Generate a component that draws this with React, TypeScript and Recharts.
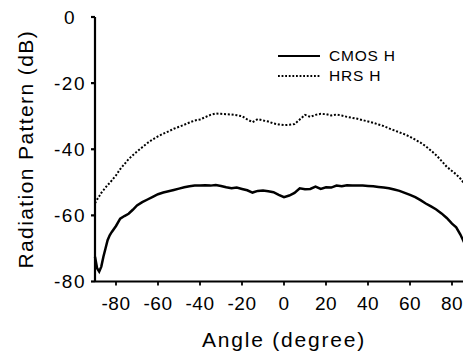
import { LineChart, Line, XAxis, YAxis, Legend } from "recharts";

// angle in degrees
const angles = [
  -90, -89, -88, -87, -86, -85, -84, -83, -82, -80,
  -78, -76, -74, -72, -70,
  -67.5, -65, -62.5, -60, -57.5, -55, -52.5, -50, -47.5, -45,
  -42.5, -40, -37.5, -35, -32.5, -30, -27.5, -25, -22.5, -20,
  -17.5, -15, -12.5, -10, -7.5, -5, -2.5, 0, 2.5, 5,
  7.5, 10, 12.5, 15, 17.5, 20, 22.5, 25, 27.5, 30,
  32.5, 35, 37.5, 40, 42.5, 45, 47.5, 50, 52.5, 55,
  57.5, 60, 62.5, 65, 67.5, 70, 72.5, 75, 77.5, 80,
  82, 84, 86, 88, 90,
];

// dB
const cmosH = [
  -72.5, -76, -77, -75.5, -72.5, -70, -67.5, -66, -65, -63.2,
  -61, -60.2, -59.5, -58.3, -57,
  -56, -55.2, -54.4, -53.6, -53.1, -52.7, -52.3, -51.9, -51.5, -51.2,
  -51.0, -51.0, -50.9, -51.0, -50.8, -51.1, -51.5, -51.8, -51.6, -52.0,
  -52.4, -53.1, -52.6, -52.5, -52.7, -53.0, -53.8, -54.5, -54.0, -53.2,
  -51.8, -52.1, -52.0, -51.3, -52.0, -51.5, -51.6, -51.0, -51.2, -50.9,
  -51.0, -51.0, -51.0, -51.1, -51.2, -51.4, -51.6, -51.8, -52.2, -52.6,
  -53.2, -53.8, -54.5, -55.4, -56.4, -57.3, -58.2, -59.4, -60.8, -62.5,
  -63.6, -65.8, -68.5, -71, -74,
];

const hrsH = [
  -56.3, -55.2, -54.2, -53.2, -52.4, -51.6, -50.8, -50.2, -49.4, -47.9,
  -46.0, -44.5, -43.0, -41.8, -40.7,
  -39.4, -38.1, -37.0, -36.1, -35.3, -34.6, -33.8, -33.2, -32.6, -31.9,
  -31.3, -31.0, -30.3, -29.6, -29.2, -29.3, -29.4, -29.5, -29.7, -30.0,
  -31.0, -31.8, -30.9, -31.3, -31.6, -32.2, -32.5, -32.7, -32.6, -32.4,
  -31.0, -29.6, -30.2, -29.6, -29.3, -29.4, -29.8, -29.5, -29.8, -30.2,
  -30.5, -30.8, -31.2, -31.6, -32.0, -32.5, -33.0, -33.7, -34.3, -34.9,
  -35.5, -36.2, -37.1, -38.0, -39.1, -40.4, -41.8, -43.5, -45.3, -46.6,
  -47.6, -48.9, -50.5, -52.0, -53.5,
];

const xTicks = [-80, -60, -40, -20, 0, 20, 40, 60, 80];
const yTicks = [0, -20, -40, -60, -80];

const data = angles.map((a, i) => ({ angle: a, cmos: cmosH[i], hrs: hrsH[i] }));

const font = "'Liberation Sans', Arial, sans-serif";

function YTick({ x, y, payload }: any) {
  return (
    <text x={x} y={y} dy="0.36em" textAnchor="middle" fontSize={19} letterSpacing={1.5} fill="#000">
      {payload.value}
    </text>
  );
}

function YTitle({ viewBox }: any) {
  const cx = viewBox.x + 25;
  const cy = viewBox.y + viewBox.height / 2;
  return (
    <text
      x={cx}
      y={cy}
      transform={`rotate(-90 ${cx} ${cy})`}
      textAnchor="middle"
      dy="0.36em"
      fontSize={21}
      letterSpacing={1.4}
      fill="#000"
    >
      Radiation Pattern (dB)
    </text>
  );
}

function XTitle({ viewBox }: any) {
  return (
    <text
      x={viewBox.x + viewBox.width / 2}
      y={347}
      textAnchor="middle"
      fontSize={21}
      letterSpacing={1.8}
      fill="#000"
    >
      Angle (degree)
    </text>
  );
}

function LegendBox() {
  const rows = [
    { name: "CMOS H", dash: undefined, w: 2.2 },
    { name: "HRS H", dash: "1.8 1.8", w: 1.8 },
  ];
  return (
    <div style={{ fontFamily: font, fontSize: 15.5, letterSpacing: 0.8 }}>
      {rows.map((r) => (
        <div key={r.name} style={{ display: "flex", alignItems: "center", height: 20 }}>
          <svg width={44} height={10}>
            <line x1={0} y1={5} x2={42} y2={5} stroke="#000" strokeWidth={r.w} strokeDasharray={r.dash} />
          </svg>
          <span style={{ marginLeft: 7 }}>{r.name}</span>
        </div>
      ))}
    </div>
  );
}

export default function App() {
  return (
    <div
      style={{
        position: "fixed",
        left: 0,
        top: 0,
        width: 463,
        height: 352,
        overflow: "hidden",
        background: "#fff",
        fontFamily: font,
      }}
    >
      <LineChart width={480} height={352} data={data} margin={{ top: 17, right: 7, left: 0, bottom: 0 }}>
        <XAxis
          dataKey="angle"
          type="number"
          domain={[-90, 90]}
          ticks={xTicks}
          height={70.5}
          tickSize={4}
          tickMargin={11}
          stroke="#000"
          strokeWidth={1.8}
          tick={{ fill: "#000", fontSize: 19, letterSpacing: 0.5 }}
          label={<XTitle />}
        />
        <XAxis
          xAxisId="top"
          orientation="top"
          dataKey="angle"
          type="number"
          domain={[-90, 90]}
          height={0}
          tick={false}
          tickLine={false}
          stroke="#000"
          strokeWidth={1.8}
        />
        <YAxis
          type="number"
          domain={[-80, 0]}
          ticks={yTicks}
          width={95}
          tickSize={4}
          tickMargin={21}
          stroke="#000"
          strokeWidth={2.2}
          tick={<YTick />}
          label={<YTitle />}
        />
        <Legend
          layout="vertical"
          align="center"
          verticalAlign="middle"
          wrapperStyle={{ left: 278, top: 46, width: 150 }}
          content={<LegendBox />}
        />
        <Line
          dataKey="hrs"
          type="linear"
          stroke="#000"
          strokeWidth={2}
          strokeDasharray="2 1.8"
          dot={false}
          isAnimationActive={false}
        />
        <Line
          dataKey="cmos"
          type="linear"
          stroke="#000"
          strokeWidth={2.5}
          dot={false}
          isAnimationActive={false}
        />
      </LineChart>
    </div>
  );
}
